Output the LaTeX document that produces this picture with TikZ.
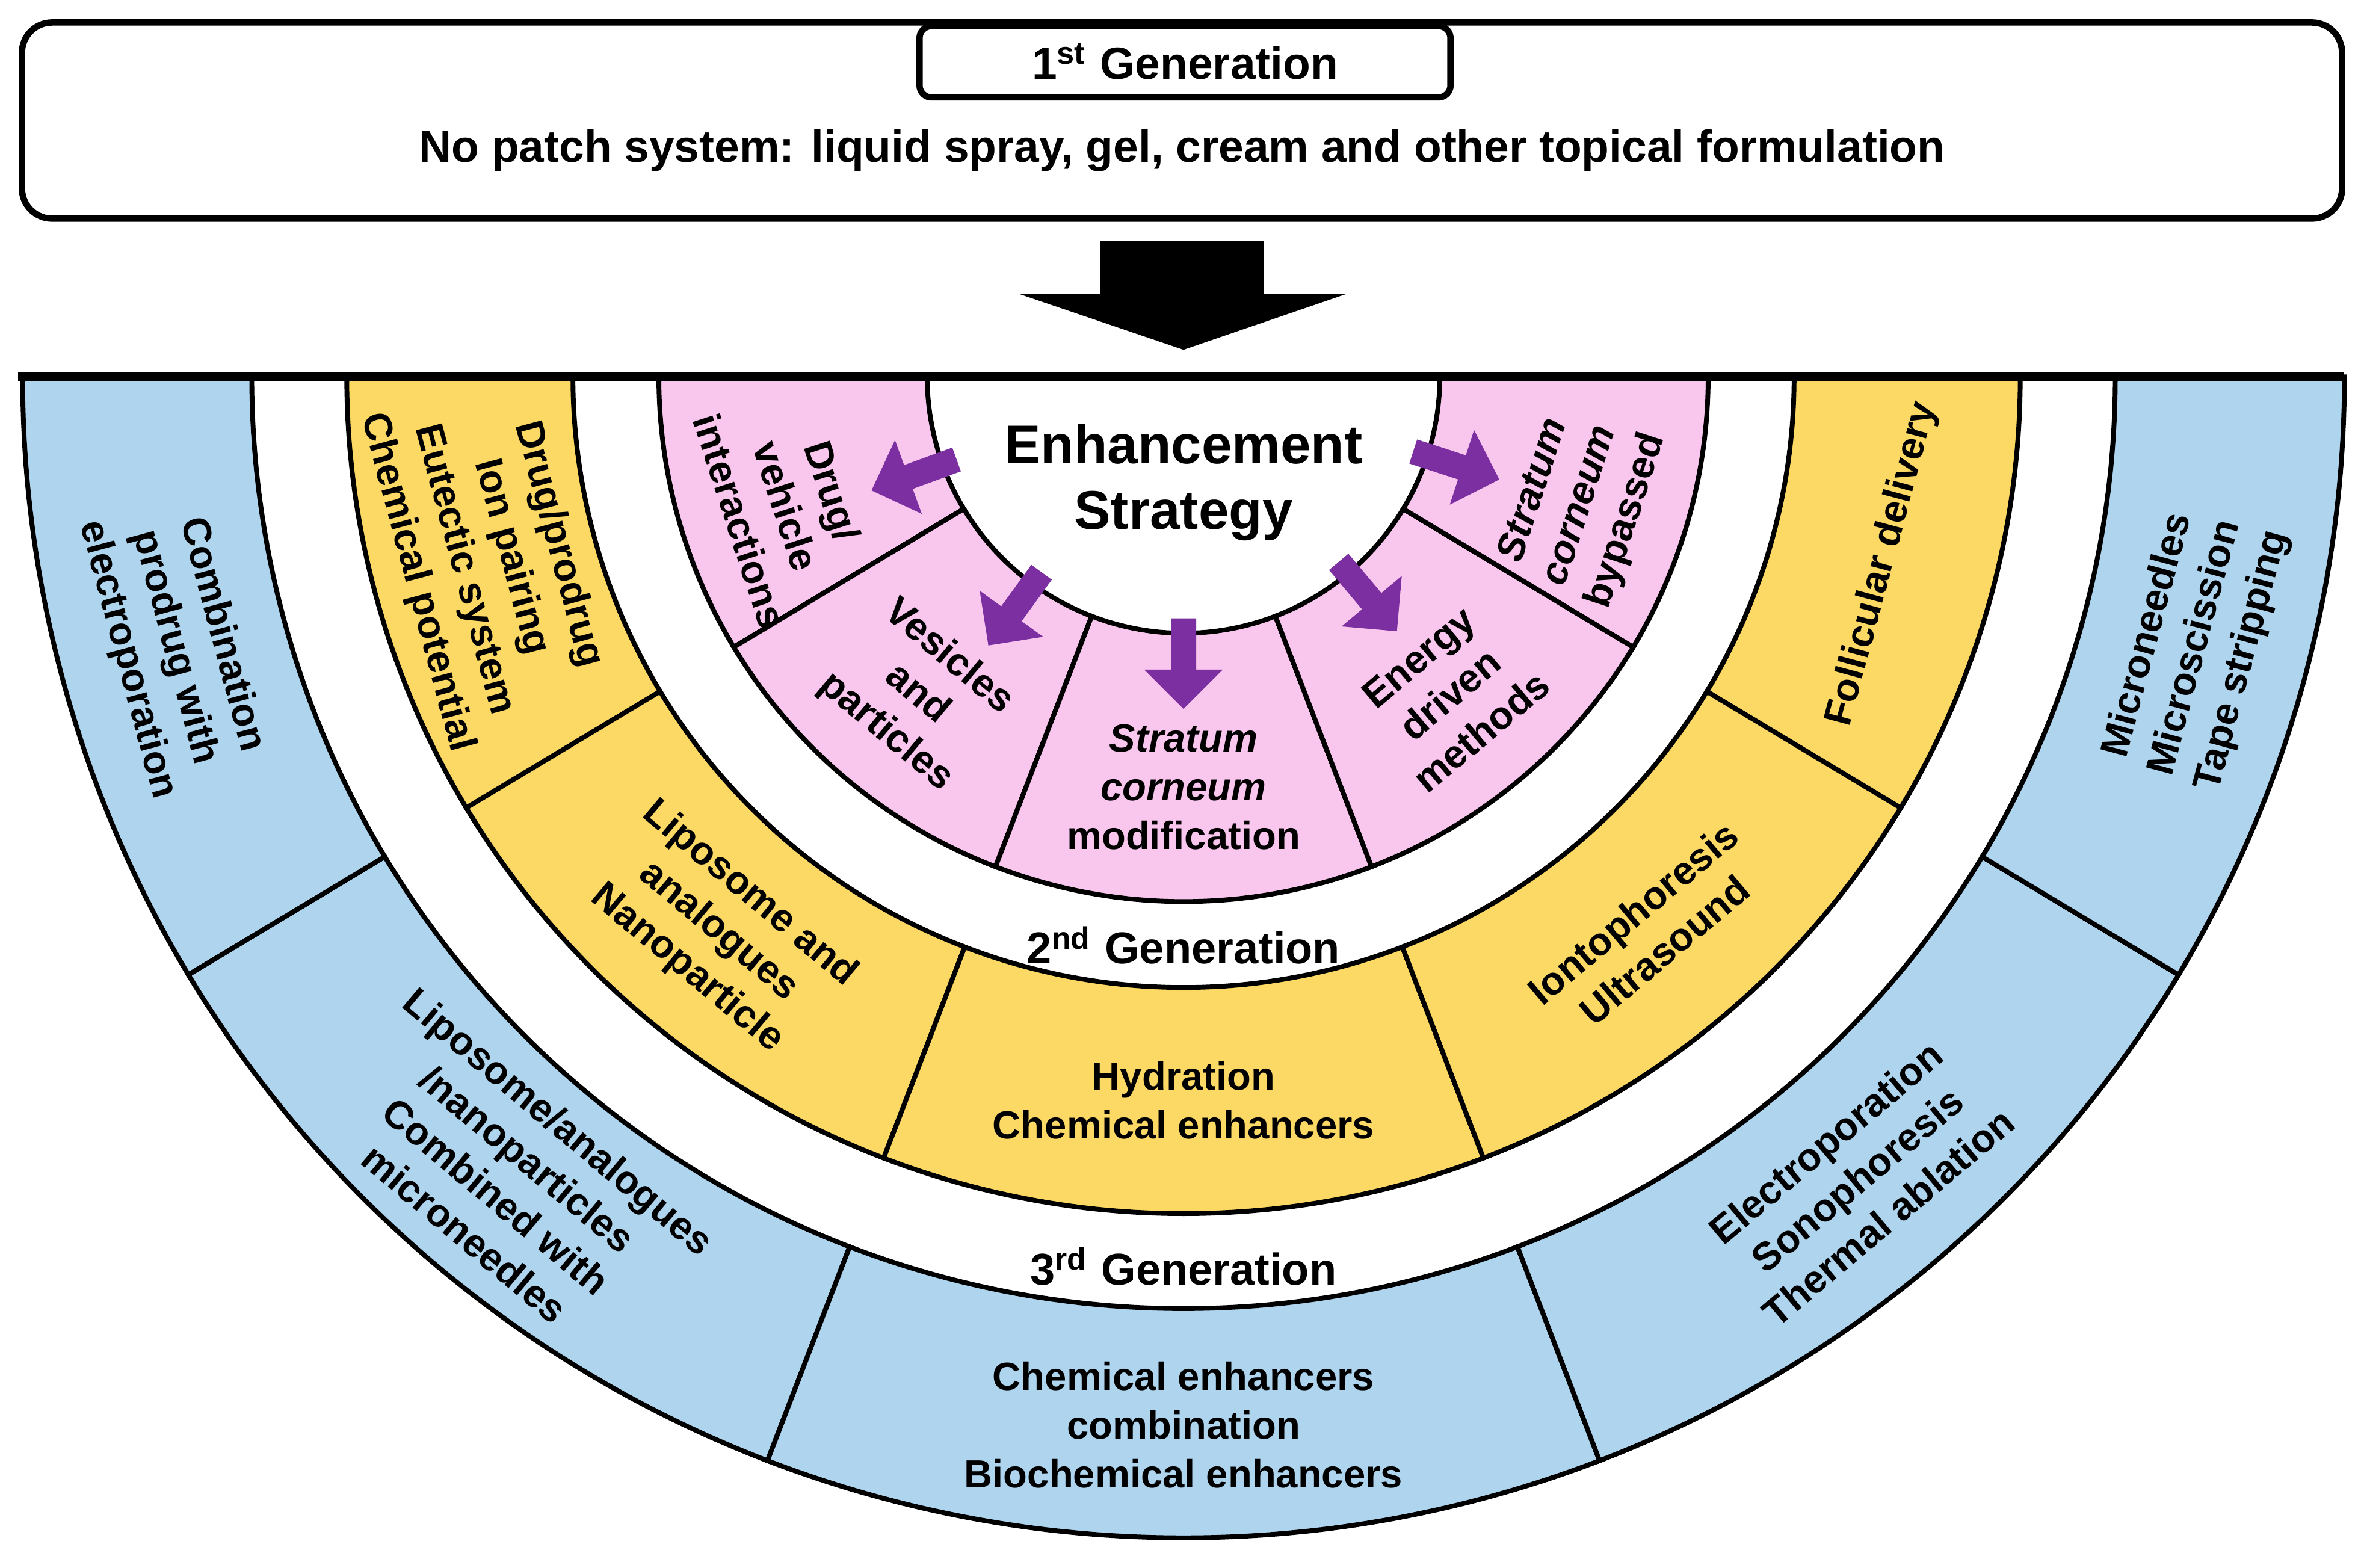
\documentclass[tikz,border=0pt]{standalone}
\usepackage{fontspec}
\setmainfont{Liberation Sans}
\usetikzlibrary{shapes.arrows}
\definecolor{pinkc}{HTML}{F9C6EE}
\definecolor{yelc}{HTML}{FCD964}
\definecolor{bluec}{HTML}{AED4EE}
\definecolor{arrc}{HTML}{7B2FA0}
\begin{document}
\begin{tikzpicture}[x=0.01cm,y=0.01cm,
  lab/.style={font=\fontsize{7.4}{9.2}\selectfont\bfseries,align=center,inner sep=0},
  gen/.style={font=\fontsize{8.4}{10}\selectfont\bfseries,inner sep=0},
  sec/.style={draw=black,line width=0.9pt},
  parr/.style={single arrow,fill=arrc,draw=none,minimum height=0.6cm,minimum width=0.52cm,single arrow head extend=0.12cm,inner sep=0.05cm}]
\useasboundingbox (0,0) rectangle (1568,1040);
% top box
\node[draw,line width=1.2pt,rounded corners=0.2cm,minimum width=15.38cm,minimum height=1.3cm] (gen1) at (784,960) {};
\node[draw,line width=1.2pt,rounded corners=0.08cm,minimum width=3.52cm,minimum height=0.47cm,font=\fontsize{8.5}{10}\selectfont\bfseries] (t1) at (786,999) {1\textsuperscript{st} Generation};
\node[font=\fontsize{8.5}{10}\selectfont\bfseries] (t1b) at (784,940) {No patch system: liquid spray, gel, cream and other topical formulation};
% big arrow
\fill (730,880) -- (838,880) -- (838,845) -- (893,845) -- (785,808) -- (676,845) -- (730,845) -- cycle;
\begin{scope}[shift={(785,790)}]
\foreach \a/\b in {180/211,211/249,249/291,291/329,329/360}{
  \filldraw[sec,fill=bluec] (\a:618) arc[start angle=\a,end angle=\b,radius=618] -- (\b:770) arc[start angle=\b,end angle=\a,radius=770] -- cycle;
  \filldraw[sec,fill=yelc] (\a:405) arc[start angle=\a,end angle=\b,radius=405] -- (\b:555) arc[start angle=\b,end angle=\a,radius=555] -- cycle;
  \filldraw[sec,fill=pinkc] (\a:170) arc[start angle=\a,end angle=\b,radius=170] -- (\b:348) arc[start angle=\b,end angle=\a,radius=348] -- cycle;
}
% pink labels
\node[lab,rotate=-72] (p1) at (198:277) {Drug/\\vehicle\\interactions};
\node[lab,rotate=-40] (p2) at (230:275) {Vesicles\\and\\particles};
\node[lab,rotate=0] (p3) at (270:272) {\itshape Stratum\\\itshape corneum\\modification};
\node[lab,rotate=40] (p4) at (310:275) {Energy\\driven\\methods};
\node[lab,rotate=72] (p5) at (342:277) {\itshape Stratum\\\itshape corneum\\bypassed};
% yellow labels
\node[lab,rotate=-75] (y1) at (195:478) {Drug/prodrug\\Ion pairing\\Eutectic system\\Chemical potential};
\node[lab,rotate=-40] (y2) at (230:480) {Liposome and\\analogues\\Nanoparticle};
\node[lab] (y3) at (270:480) {Hydration\\Chemical enhancers};
\node[lab,rotate=40] (y4) at (310:480) {Iontophoresis\\Ultrasound};
\node[lab,rotate=75] (y5) at (345:480) {Follicular delivery};
% blue labels
\node[lab,rotate=-75] (b1) at (195:693) {Combination\\prodrug with\\electroporation};
\node[lab,rotate=-40] (b2) at (230:693) {Liposome/analogues\\/nanoparticles\\Combined with\\microneedles};
\node[lab] (b3) at (270:695) {Chemical enhancers\\combination\\Biochemical enhancers};
\node[lab,rotate=40] (b4) at (310:695) {Electroporation\\Sonophoresis\\Thermal ablation};
\node[lab,rotate=75] (b5) at (345:695) {Microneedles\\Microscission\\Tape stripping};
% generation labels
\node[gen] (g2) at (270:377) {2\textsuperscript{nd} Generation};
\node[gen] (g3) at (270:590) {3\textsuperscript{rd} Generation};
% centre
\node[font=\fontsize{10.3}{12.4}\selectfont\bfseries,align=center,inner sep=0] (es) at (0,-70) {Enhancement\\Strategy};
\foreach \t/\n in {200/a1,234/a2,270/a3,310/a4,342/a5}{
  \node[parr,rotate=\t] (\n) at (\t:186) {};
}
\end{scope}
\draw[line width=1.6pt] (12,790) -- (1555,790);
\end{tikzpicture}
\end{document}
